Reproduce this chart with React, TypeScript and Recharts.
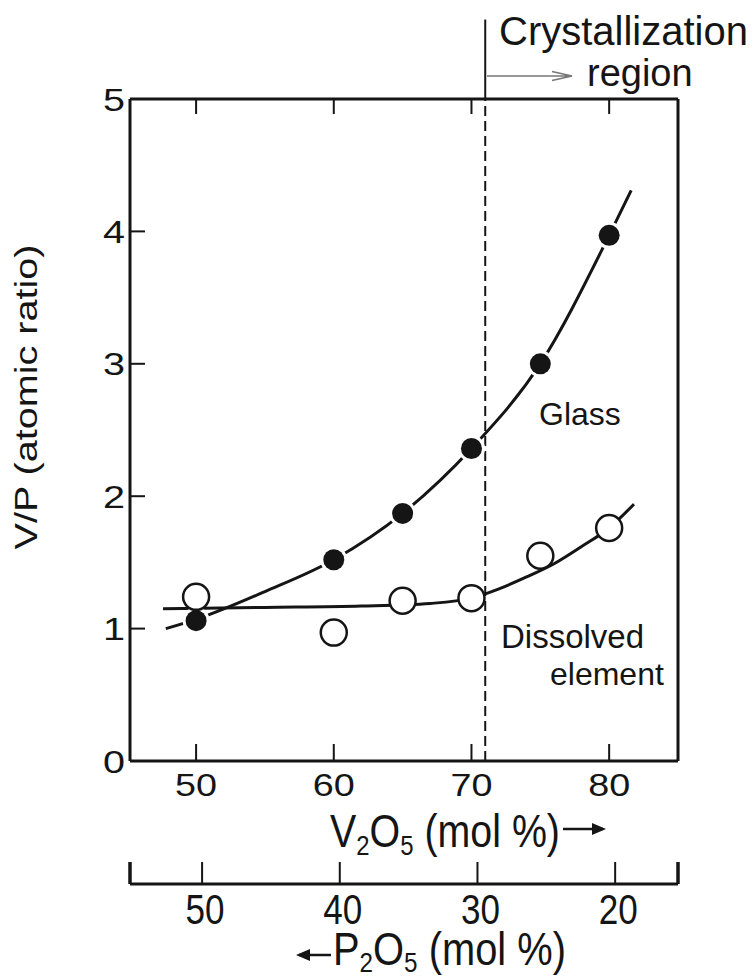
import { ComposedChart, Line, Scatter, XAxis, YAxis, ReferenceLine } from 'recharts';

// measured samples, V2O5 content in mol %
const sampleV2O5 = [50, 60, 65, 70, 75, 80];
const glassRatio = [1.06, 1.52, 1.87, 2.36, 3.0, 3.97];
const dissolvedRatio = [1.24, 0.97, 1.21, 1.23, 1.55, 1.76];

// hand-drawn trend curves
const glassFitV2O5 = [47.8, 50, 55, 60, 65, 70, 75, 80, 81.6];
const glassFitRatio = [1.0, 1.07, 1.28, 1.52, 1.87, 2.36, 3.0, 3.97, 4.31];
const dissolvedFitV2O5 = [47.6, 55, 62, 67, 70, 72, 74, 76, 78, 80, 81.8];
const dissolvedFitRatio = [1.15, 1.16, 1.17, 1.19, 1.23, 1.3, 1.39, 1.49, 1.62, 1.76, 1.94];

const v2o5Ticks = [50, 60, 70, 80];
const p2o5Ticks = [50, 40, 30, 20];
const ratioTicks = [0, 1, 2, 3, 4, 5];

const v2o5Domain: [number, number] = [45.2, 85];
// binary glass: P2O5 = 100 - V2O5
const p2o5Domain: [number, number] = [100 - v2o5Domain[1], 100 - v2o5Domain[0]];
const ratioDomain: [number, number] = [0, 5];
const crystallizationOnset = 71;

const FONT = '"Liberation Sans", Arial, sans-serif';
const INK = '#151515';

const CHART_W = 753;
const CHART_H = 976;
const MARGIN = { top: 98, right: 74, bottom: 0, left: 0 };
const Y_AXIS_W = 130;
const RIGHT_AXIS_W = 1;
const TOP_AXIS_H = 1;
const PLOT_LEFT = MARGIN.left + Y_AXIS_W;
const PLOT_TOP = MARGIN.top + TOP_AXIS_H;
const PLOT_W = CHART_W - MARGIN.right - RIGHT_AXIS_W - PLOT_LEFT;

const zip = (xs: number[], ys: number[]) => xs.map((x, i) => ({ x, y: ys[i] }));

const glassPoints = zip(sampleV2O5, glassRatio);
const dissolvedPoints = zip(sampleV2O5, dissolvedRatio);
const glassFit = zip(glassFitV2O5, glassFitRatio);
const dissolvedFit = zip(dissolvedFitV2O5, dissolvedFitRatio);

const toP2O5 = (d: { x: number }) => 100 - d.x;
const v2o5ToPx = (v: number) =>
  PLOT_LEFT + ((v - v2o5Domain[0]) / (v2o5Domain[1] - v2o5Domain[0])) * PLOT_W;

function BottomTick({ x, y, payload }: any) {
  return (
    <g>
      <line x1={x} y1={y} x2={x} y2={y - 17} stroke={INK} strokeWidth={2} />
      <text
        x={x}
        y={y + 35}
        textAnchor="middle"
        fontSize={32}
        textLength={42}
        lengthAdjust="spacingAndGlyphs"
        fontFamily={FONT}
        fill={INK}
      >
        {payload.value}
      </text>
    </g>
  );
}

function LeftTick({ x, y, payload }: any) {
  return (
    <g>
      <line x1={x} y1={y} x2={x + 15} y2={y} stroke={INK} strokeWidth={2} />
      <text
        x={x - 5}
        y={y + 11.5}
        textAnchor="end"
        fontSize={32}
        textLength={22}
        lengthAdjust="spacingAndGlyphs"
        fontFamily={FONT}
        fill={INK}
      >
        {payload.value}
      </text>
    </g>
  );
}

// end caps sit at the domain limits and carry no label;
// the printed scale runs a few pixels right of the V2O5 one
function P2O5Tick({ x, y, payload }: any) {
  const labelled = p2o5Ticks.includes(payload.value);
  if (!labelled) {
    return <line x1={x} y1={y} x2={x} y2={y - 22} stroke={INK} strokeWidth={3.5} />;
  }
  return (
    <g>
      <line x1={x + 6} y1={y} x2={x + 6} y2={y - 22} stroke={INK} strokeWidth={2} />
      <text
        x={x + 9}
        y={y + 40}
        textAnchor="middle"
        fontSize={42}
        textLength={39}
        lengthAdjust="spacingAndGlyphs"
        fontFamily={FONT}
        fill={INK}
      >
        {payload.value}
      </text>
    </g>
  );
}

function GlassDot({ cx, cy }: any) {
  return (
    <g>
      <circle cx={cx} cy={cy} r={13.5} fill="#fff" />
      <circle cx={cx} cy={cy} r={10.5} fill={INK} />
    </g>
  );
}

function DissolvedDot({ cx, cy }: any) {
  return <circle cx={cx} cy={cy} r={13} fill="#fff" stroke={INK} strokeWidth={2.5} />;
}

function Annotations() {
  return (
    <g fontFamily={FONT} fill={INK}>
      {/* inward ticks on the top frame */}
      {v2o5Ticks.map((t) => (
        <line
          key={t}
          x1={v2o5ToPx(t)}
          y1={PLOT_TOP}
          x2={v2o5ToPx(t)}
          y2={PLOT_TOP + 15}
          stroke={INK}
          strokeWidth={2}
        />
      ))}
      <text x={499} y={45} fontSize={40}>Crystallization</text>
      <text x={587} y={86} fontSize={38}>region</text>
      <path d="M487 76 H570 M552 71.5 L572 76 L552 80.5" stroke="#777" strokeWidth={1.5} fill="none" />
      <text x={539} y={425} fontSize={32}>Glass</text>
      <text x={501} y={648} fontSize={33}>Dissolved</text>
      <text x={550} y={685} fontSize={32}>element</text>
      <text
        x={26}
        y={408}
        fontSize={31}
        textAnchor="middle"
        textLength={305}
        lengthAdjust="spacingAndGlyphs"
        transform="rotate(-90 26 397)"
      >
        V/P (atomic ratio)
      </text>
      <text x={330} y={847} fontSize={46} textLength={230} lengthAdjust="spacingAndGlyphs">
        V<tspan fontSize={28} dy={8}>2</tspan>
        <tspan dy={-8}>O</tspan>
        <tspan fontSize={28} dy={8}>5</tspan>
        <tspan dy={-8}> (mol %)</tspan>
      </text>
      <path d="M563 829 H603" stroke={INK} strokeWidth={2.5} />
      <path d="M606 829 L592 823 L592 835 Z" fill={INK} />
      <text x={333} y={965} fontSize={46} textLength={233} lengthAdjust="spacingAndGlyphs">
        P<tspan fontSize={28} dy={7}>2</tspan>
        <tspan dy={-7}>O</tspan>
        <tspan fontSize={28} dy={7}>5</tspan>
        <tspan dy={-7}> (mol %)</tspan>
      </text>
      <path d="M299 955 H331" stroke={INK} strokeWidth={2.5} />
      <path d="M296 955 L310 949 L310 961 Z" fill={INK} />
    </g>
  );
}

export default function App() {
  return (
    <div style={{ position: 'absolute', left: 0, top: 0, width: CHART_W, height: CHART_H, background: '#fff' }}>
      <ComposedChart width={CHART_W} height={CHART_H} margin={MARGIN}>
        <XAxis
          xAxisId="b"
          dataKey={toP2O5}
          type="number"
          domain={p2o5Domain}
          allowDataOverflow
          ticks={[p2o5Domain[1], ...p2o5Ticks, p2o5Domain[0]]}
          reversed
          orientation="bottom"
          height={92}
          tickSize={0}
          tickMargin={0}
          tickLine={false}
          tick={P2O5Tick}
          axisLine={{ stroke: INK, strokeWidth: 3 }}
          interval={0}
        />
        <XAxis
          xAxisId="a"
          dataKey="x"
          type="number"
          domain={v2o5Domain}
          allowDataOverflow
          ticks={v2o5Ticks}
          orientation="bottom"
          height={123}
          tickSize={0}
          tickMargin={0}
          tickLine={false}
          tick={BottomTick}
          axisLine={{ stroke: INK, strokeWidth: 3 }}
          interval={0}
        />
        <XAxis
          xAxisId="top"
          dataKey="x"
          type="number"
          domain={v2o5Domain}
          allowDataOverflow
          orientation="top"
          height={TOP_AXIS_H}
          tick={false}
          tickLine={false}
          axisLine={{ stroke: INK, strokeWidth: 3 }}
        />
        <YAxis
          dataKey="y"
          type="number"
          domain={ratioDomain}
          allowDataOverflow
          ticks={ratioTicks}
          width={Y_AXIS_W}
          tickSize={0}
          tickMargin={0}
          tickLine={false}
          tick={LeftTick}
          axisLine={{ stroke: INK, strokeWidth: 3 }}
          interval={0}
        />
        <YAxis
          yAxisId="right"
          dataKey="y"
          type="number"
          domain={ratioDomain}
          allowDataOverflow
          orientation="right"
          width={RIGHT_AXIS_W}
          tick={false}
          tickLine={false}
          axisLine={{ stroke: INK, strokeWidth: 3 }}
        />
        <ReferenceLine
          xAxisId="a"
          segment={[{ x: crystallizationOnset, y: 0 }, { x: crystallizationOnset, y: 5 }]}
          stroke={INK}
          strokeWidth={2}
          strokeDasharray="10 5"
        />
        <ReferenceLine
          xAxisId="a"
          segment={[{ x: crystallizationOnset, y: 5 }, { x: crystallizationOnset, y: 5.6 }]}
          stroke={INK}
          strokeWidth={2}
          ifOverflow="visible"
        />
        <Line
          xAxisId="b"
          data={glassFit}
          dataKey="y"
          type="monotone"
          stroke={INK}
          strokeWidth={3}
          dot={false}
          isAnimationActive={false}
        />
        <Scatter xAxisId="a" data={glassPoints} dataKey="y" shape={GlassDot} isAnimationActive={false} />
        <Line
          xAxisId="top"
          yAxisId="right"
          data={dissolvedFit}
          dataKey="y"
          type="monotone"
          stroke={INK}
          strokeWidth={3}
          dot={false}
          isAnimationActive={false}
        />
        <Scatter xAxisId="a" data={dissolvedPoints} dataKey="y" shape={DissolvedDot} isAnimationActive={false} />
        <Annotations />
      </ComposedChart>
    </div>
  );
}
